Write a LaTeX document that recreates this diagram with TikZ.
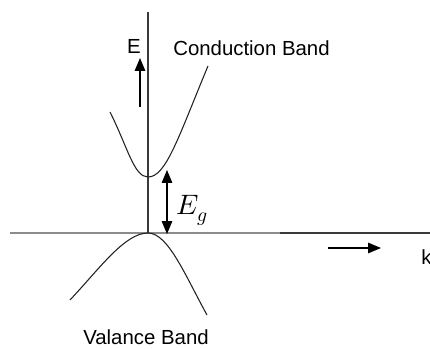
\documentclass[tikz,border=0pt]{standalone}
\usepackage{fontspec}
\setmainfont{Liberation Sans}
\usepackage{unicode-math}
\setmathfont{Latin Modern Math}
\usetikzlibrary{arrows.meta}
\definecolor{axisdark}{HTML}{3A3A3A}
\definecolor{axisgray}{HTML}{8C8C8C}
\definecolor{bandline}{HTML}{202020}
\tikzset{
  axis/.style={line width=1.2pt, draw=axisdark},
  baseline/.style={line width=2pt, draw=axisgray},
  band/.style={line width=0.75pt, draw=bandline},
  dirarrow/.style={-{Triangle[length=3.2mm, width=2.6mm]}, line width=0.9pt},
  gaparrow/.style={{Triangle[length=3.2mm, width=2.6mm]}-{Triangle[length=3.2mm, width=2.6mm]}, line width=0.9pt},
  lbl/.style={font=\fontsize{14.5}{16}\selectfont, inner sep=0pt},
}
\begin{document}
\begin{tikzpicture}[x=0.025cm, y=-0.025cm]
  \useasboundingbox (0,0) rectangle (430,349);
  % axes
  \coordinate (origin) at (148,233);
  \draw[baseline] (10,233) -- (280,233);
  \draw[axis] (280,233) -- (430,233);
  \draw[axis] (148,12) -- (origin);
  % bands
  \coordinate (cbmin) at (148,177);
  \draw[band] (110,112) .. controls (128,148) and (134,177) .. (cbmin)
              .. controls (166,177) and (178,138) .. (208,66);
  \draw[band] (70,300) .. controls (100,268) and (125,233) .. (origin)
              .. controls (168,233) and (185,275) .. (207,315);
  % labels
  \node[lbl, anchor=base east] (elabel) at (141,53) {E};
  \node[lbl, anchor=base west] (cblabel) at (173,55) {Conduction Band};
  \node[lbl, anchor=base] (vblabel) at (146,344) {Valance Band};
  \node[lbl, anchor=base west] (klabel) at (421,264) {k};
  \node[inner sep=0pt, font=\fontsize{20}{22}\selectfont] (eglabel) at (192,210) {$E_g$};
  % arrows
  \coordinate (eup0) at (140,107);
  \coordinate (eup1) at (140,58);
  \draw[dirarrow] (eup0) -- (eup1);
  \coordinate (egtop) at (167,170);
  \coordinate (egbot) at (167,234);
  \draw[gaparrow] (egtop) -- (egbot);
  \coordinate (kar0) at (328,248);
  \coordinate (kar1) at (381,248);
  \draw[dirarrow] (kar0) -- (kar1);
\end{tikzpicture}
\end{document}
